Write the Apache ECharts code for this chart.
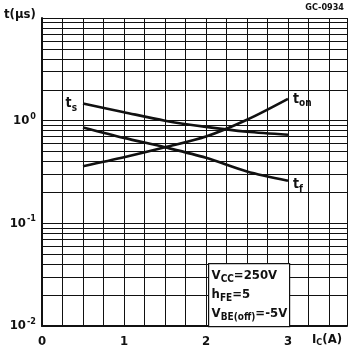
<!DOCTYPE html>
<html>
<head>
<meta charset="utf-8">
<script src="https://cdn.jsdelivr.net/npm/echarts@6/dist/echarts.min.js"></script>
<style>
  html, body { margin: 0; padding: 0; background: #fff; }
  #chart { width: 350px; height: 352px; }
</style>
</head>
<body>
<div id="chart"></div>
<script>
// collector current Ic (A)
var currents = [0.5, 1, 1.5, 2, 2.5, 3];
// switching times (us)
var tStorage = [1.47, 1.21, 1.0, 0.87, 0.78, 0.73];
var tFall = [0.86, 0.68, 0.55, 0.435, 0.32, 0.26];
var tOn = [0.36, 0.44, 0.55, 0.70, 1.02, 1.63];
// log grid: decades and the minor lines inside each decade
var decades = [0.01, 0.1, 1];
var minorFactors = [2, 3, 4, 5, 6, 7, 8, 9];

var FONT = 'DejaVu Sans Condensed';
var ink = '#111';

// minor horizontal grid lines (2..9 x 10^n)
var minorLines = [];
decades.forEach(function (d) {
    minorFactors.forEach(function (f) {
        minorLines.push({ yAxis: +(d * f).toPrecision(3) });
    });
});

function pairs(ys) {
    return currents.map(function (x, i) { return [x, ys[i]]; });
}

var curveLabelRich = {
    t: { fontFamily: FONT, fontSize: 14, fontWeight: 'bold', color: ink },
    sub: { fontFamily: FONT, fontSize: 10, fontWeight: 'bold', color: ink, padding: [9, 0, 0, 0] }
};

function withLabel(data, idx, text, pos, offset) {
    data[idx] = {
        value: data[idx],
        label: {
            show: true, position: pos, distance: 4, offset: offset,
            formatter: text, rich: curveLabelRich
        }
    };
    return data;
}

var lineStyle = { color: ink, width: 2.6 };

function curve(name, data) {
    return {
        name: name, type: 'line', smooth: 0.3, silent: true,
        symbol: 'circle', symbolSize: 0, showSymbol: true,
        itemStyle: { color: ink },
        lineStyle: lineStyle,
        data: data
    };
}

var chart = echarts.init(document.getElementById('chart'));

var series = [
    curve('ts', withLabel(pairs(tStorage), 0, '{t|t}{sub|s}', 'left', [-2, 0])),
    curve('ton', withLabel(pairs(tOn), currents.length - 1, '{t|t}{sub|on}', 'right', [1, 0])),
    curve('tf', withLabel(pairs(tFall), currents.length - 1, '{t|t}{sub|f}', 'right', [1, 4]))
];
series[0].markLine = {
    silent: true, symbol: 'none', label: { show: false },
    lineStyle: { color: ink, width: 1, type: 'solid' },
    data: minorLines
};

var option = {
    animation: false,
    backgroundColor: '#fff',
    grid: { left: 42, right: 0, top: 18, bottom: 26 },
    xAxis: {
        type: 'value',
        min: 0, max: 3.72, interval: 0.25,
        axisLine: { show: true, lineStyle: { color: ink, width: 2 } },
        axisTick: { show: false },
        splitLine: { show: true, lineStyle: { color: ink, width: 1 } },
        axisLabel: {
            margin: 9,
            fontFamily: FONT, fontSize: 13, fontWeight: 'bold', color: ink,
            formatter: function (v) {
                return Math.abs(v - Math.round(v)) < 1e-6 && v < 3.5 ? String(Math.round(v)) : '';
            }
        }
    },
    yAxis: {
        type: 'log', logBase: 10,
        min: 0.01, max: 10,
        axisLine: { show: true, lineStyle: { color: ink, width: 2 } },
        axisTick: { show: false },
        splitLine: { show: true, lineStyle: { color: ink, width: 1.2 } },
        axisLabel: {
            margin: 6,
            formatter: function (v) {
                var e = Math.round(Math.log(v) / Math.LN10);
                if (e >= 1) return '';
                return '{b|10}{sup|' + (e < 0 ? '-' + (-e) : e) + '}';
            },
            rich: {
                b: { fontFamily: FONT, fontSize: 13, fontWeight: 'bold', color: ink },
                sup: { fontFamily: FONT, fontSize: 9, fontWeight: 'bold', color: ink, padding: [0, 0, 9, 1] }
            }
        }
    },
    series: series,
    graphic: [
        {
            type: 'text', left: 4, top: 8,
            style: { text: 't(μs)', font: 'bold 13px "' + FONT + '"', fill: ink }
        },
        {
            type: 'text', right: 6, top: 3,
            style: { text: 'GC-0934', font: 'bold 9px "' + FONT + '"', fill: ink }
        },
        {
            type: 'text', left: 312, top: 333,
            style: {
                text: '{t|I}{sub|C}{t|(A)}',
                rich: {
                    t: { fontFamily: FONT, fontSize: 13, fontWeight: 'bold', fill: ink, color: ink },
                    sub: { fontFamily: FONT, fontSize: 9, fontWeight: 'bold', fill: ink, color: ink, padding: [7, 0, 0, 0] }
                }
            }
        },
        {
            type: 'group', left: 208, top: 263, z: 100,
            children: [
                {
                    type: 'rect', z: 100,
                    shape: { x: 0, y: 0, width: 81, height: 63 },
                    style: { fill: '#fff', stroke: ink, lineWidth: 1.2 }
                },
                {
                    type: 'text', x: 3, y: 3, z: 101,
                    style: {
                        text: '{t|V}{sub|CC}{t|=250V}\n{t|h}{sub|FE}{t|=5}\n{t|V}{sub|BE(off)}{t|=-5V}',
                        lineHeight: 19,
                        rich: {
                            t: { fontFamily: FONT, fontSize: 13, fontWeight: 'bold', fill: ink, color: ink, lineHeight: 19 },
                            sub: { fontFamily: FONT, fontSize: 10, fontWeight: 'bold', fill: ink, color: ink, lineHeight: 19, padding: [7, 0, 0, 0] }
                        }
                    }
                }
            ]
        }
    ]
};

chart.setOption(option);
</script>
</body>
</html>
